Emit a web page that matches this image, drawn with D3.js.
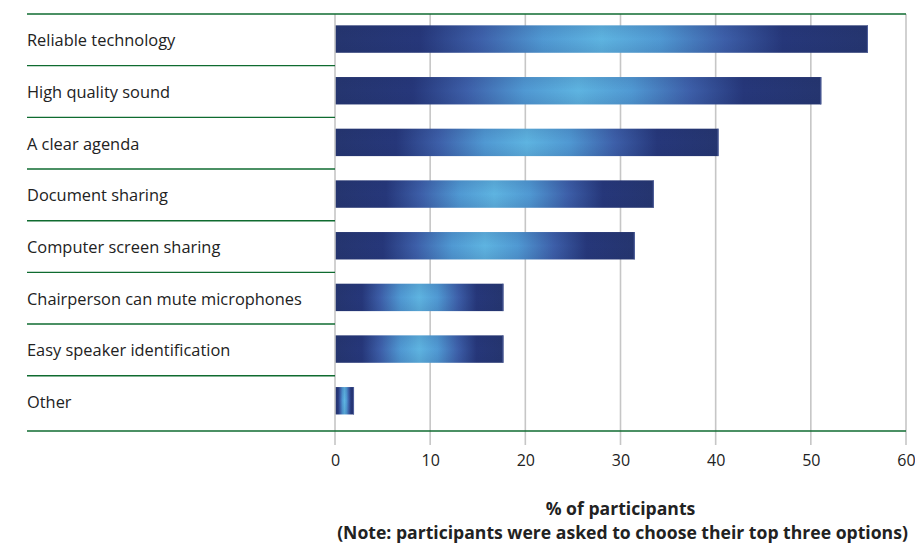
<!DOCTYPE html>
<html>
<head>
<meta charset="utf-8">
<script src="https://cdn.jsdelivr.net/npm/d3@7"></script>
<style>
  html, body { margin: 0; padding: 0; background: #fff; }
  svg { display: block; font-family: "Open Sans", "Noto Sans", sans-serif; }
</style>
</head>
<body>
<svg id="chart" width="915" height="543"></svg>
<script>
// Features participants rated most important in a meeting
const categories = [
  "Reliable technology",
  "High quality sound",
  "A clear agenda",
  "Document sharing",
  "Computer screen sharing",
  "Chairperson can mute microphones",
  "Easy speaker identification",
  "Other"
];
const values = [56, 51.1, 40.3, 33.5, 31.5, 17.7, 17.7, 2];
const tickValues = [0, 10, 20, 30, 40, 50, 60];
const axisTitle = "% of participants";
const axisNote = "(Note: participants were asked to choose their top three options)";

const svg = d3.select("#chart");
const plot = { left: 335, right: 906, top: 14, bottom: 431, labelX: 27 };

const x = d3.scaleLinear().domain([0, 60]).range([plot.left, plot.right]);
const step = 51.67;
const y = d3.scaleBand().domain(categories)
  .range([plot.top, plot.top + step * categories.length]).padding(0);

// Bar fill: dark navy at both ends, light blue in the middle
const defs = svg.append("defs");
const grad = defs.append("linearGradient").attr("id", "barFill")
  .attr("x1", 0).attr("x2", 1).attr("y1", 0).attr("y2", 0);
[
  [0.00, "#25356f"], [0.16, "#26377a"], [0.27, "#3d5fa9"],
  [0.39, "#5099d3"], [0.50, "#5eb4e1"], [0.61, "#5099d3"],
  [0.73, "#3d5fa9"], [0.84, "#26377a"], [1.00, "#25356f"]
].forEach(([o, c]) => grad.append("stop").attr("offset", o).attr("stop-color", c));

const shade = defs.append("linearGradient").attr("id", "barShade")
  .attr("x1", 0).attr("x2", 0).attr("y1", 0).attr("y2", 1);
[[0, 0.12], [0.5, 0], [1, 0.12]].forEach(([o, a]) =>
  shade.append("stop").attr("offset", o).attr("stop-color", "#1c2a5e").attr("stop-opacity", a));

// Vertical grid lines with tick marks below the plot
const gridBottom = plot.bottom + 14;
svg.append("g").selectAll("line").data(tickValues.filter(d => d !== 0)).join("line")
  .attr("x1", d => x(d)).attr("x2", d => x(d))
  .attr("y1", plot.top).attr("y2", gridBottom)
  .attr("stroke", "#c6c6c6").attr("stroke-width", 1.6);

// Bars
const barTop = c => y(c) + step * 0.22;
const barH = step * 0.53;
const bars = svg.append("g");
bars.selectAll("rect.fill").data(categories).join("rect").attr("class", "fill")
  .attr("x", x(0)).attr("y", barTop)
  .attr("width", (c, i) => x(values[i]) - x(0)).attr("height", barH)
  .attr("fill", "url(#barFill)");
bars.selectAll("rect.shade").data(categories).join("rect").attr("class", "shade")
  .attr("x", x(0)).attr("y", barTop)
  .attr("width", (c, i) => x(values[i]) - x(0)).attr("height", barH)
  .attr("fill", "url(#barShade)");
bars.selectAll("line.edge").data(categories).join("line").attr("class", "edge")
  .attr("x1", (c, i) => x(values[i]) - 0.5).attr("x2", (c, i) => x(values[i]) - 0.5)
  .attr("y1", barTop).attr("y2", c => barTop(c) + barH)
  .attr("stroke", "#4f5f9c").attr("stroke-width", 1);

// Zero line sits on top of the bars' left edge
svg.append("line")
  .attr("x1", x(0)).attr("x2", x(0)).attr("y1", plot.top).attr("y2", gridBottom)
  .attr("stroke", "#c6c6c6").attr("stroke-width", 1.6);

// Green row separators in the label column, full-width top and bottom rules
const green = "#0f6b30";
svg.append("g").selectAll("line").data(categories.slice(1)).join("line")
  .attr("x1", plot.labelX).attr("x2", x(0))
  .attr("y1", c => y(c)).attr("y2", c => y(c))
  .attr("stroke", green).attr("stroke-width", 1.4);
svg.append("line").attr("x1", plot.labelX).attr("x2", plot.right)
  .attr("y1", plot.top).attr("y2", plot.top)
  .attr("stroke", green).attr("stroke-width", 1.4);
svg.append("line").attr("x1", plot.labelX).attr("x2", plot.right)
  .attr("y1", plot.bottom).attr("y2", plot.bottom)
  .attr("stroke", green).attr("stroke-width", 1.4);

// Category labels
svg.append("g").selectAll("text").data(categories).join("text")
  .attr("x", plot.labelX)
  .attr("y", c => y(c) + y.bandwidth() / 2)
  .attr("dominant-baseline", "central")
  .attr("font-size", 16.4).attr("fill", "#222")
  .text(c => c);

// X axis labels
const axis = d3.axisBottom(x).tickValues(tickValues).tickSize(0).tickPadding(0)
  .tickFormat(d3.format("d"));
const gx = svg.append("g").attr("transform", `translate(0,${gridBottom + 10})`).call(axis);
gx.select(".domain").remove();
gx.selectAll("text").attr("font-size", 16).attr("fill", "#222")
  .attr("font-family", "\"Open Sans\", sans-serif");

// Axis title and note
const midX = (plot.left + plot.right) / 2;
svg.append("text").attr("x", midX).attr("y", 515)
  .attr("text-anchor", "middle").attr("font-weight", "bold")
  .attr("font-size", 17.6).attr("fill", "#222").text(axisTitle);
svg.append("text").attr("x", midX + 2).attr("y", 539)
  .attr("text-anchor", "middle").attr("font-weight", "bold")
  .attr("font-size", 17.6).attr("fill", "#222").text(axisNote);
</script>
</body>
</html>
